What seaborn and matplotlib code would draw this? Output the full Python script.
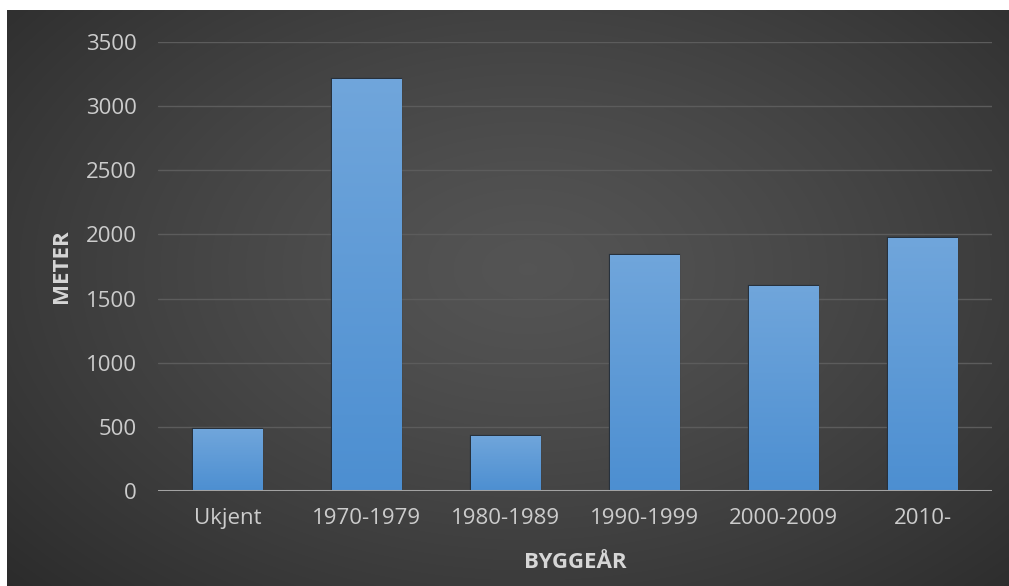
import numpy as np
import pandas as pd
import matplotlib
matplotlib.use("Agg")
import matplotlib.pyplot as plt
import seaborn as sns

# Metres per construction period
categories = ["Ukjent", "1970-1979", "1980-1989", "1990-1999", "2000-2009", "2010-"]
meters = [480, 3210, 430, 1840, 1600, 1970]
y_ticks = [0, 500, 1000, 1500, 2000, 2500, 3000, 3500]

df = pd.DataFrame({"byggeaar": categories, "meter": meters})

sns.set_theme(style="dark")
plt.rcParams["font.family"] = ["Open Sans", "DejaVu Sans"]

W, H = 1009, 586
fig = plt.figure(figsize=(W / 100, H / 100), dpi=100, facecolor="white")

# Dark panel with a soft radial gradient
bg = fig.add_axes([7 / W, 0, 1 - 7 / W, 1 - 10 / H], zorder=-10)
yy, xx = np.mgrid[0:1:300j, 0:1:500j]
r = np.sqrt(((xx - 0.52) / 0.75) ** 2 + ((yy - 0.45) / 0.85) ** 2)
shade = np.clip(0.33 - 0.17 * r ** 1.3, 0.16, 0.33)
bg.imshow(np.dstack([shade, shade, shade]), aspect="auto", extent=[0, 1, 0, 1],
          interpolation="bilinear")
bg.set_axis_off()

ax = fig.add_axes([158 / W, (H - 491) / H, 834 / W, 449 / H])
ax.set_facecolor("none")

sns.barplot(data=df, x="byggeaar", y="meter", width=0.5, color="#5b9bd5",
            edgecolor="#27313c", linewidth=1.6, saturation=1, ax=ax)

# Vertical gradient fill inside each bar
grad = np.linspace(0, 1, 256).reshape(-1, 1)
top = np.array([0.44, 0.65, 0.86])
bot = np.array([0.30, 0.56, 0.82])
cols = top[None, :] * (1 - grad) + bot[None, :] * grad
img = cols.reshape(256, 1, 3)
for p in ax.patches:
    x0, y0 = p.get_x(), p.get_y()
    w, h = p.get_width(), p.get_height()
    im = ax.imshow(img, extent=[x0, x0 + w, y0, y0 + h], aspect="auto",
                   zorder=p.get_zorder() + 0.1, interpolation="bilinear")
    im.set_clip_path(p)

ax.set_xlim(-0.5, len(categories) - 0.5)
ax.set_ylim(0, 3500)
ax.set_yticks(y_ticks)
ax.set_yticklabels([str(t) for t in y_ticks])
ax.yaxis.grid(True, color="#5c5c5c", linewidth=1.0)
ax.xaxis.grid(False)
ax.set_axisbelow(True)
for s in ax.spines.values():
    s.set_visible(False)
ax.axhline(0, color="#a3a3a3", linewidth=2.2, zorder=5)

ax.tick_params(axis="both", length=0, colors="#cccccc", labelsize=16)
ax.tick_params(axis="y", pad=15.5)
ax.tick_params(axis="x", pad=12.5)

ax.set_xlabel("BYGGEÅR", color="#d6d6d6", fontsize=16, fontweight="bold", labelpad=16)
ax.set_ylabel("METER", color="#d6d6d6", fontsize=16, fontweight="bold", labelpad=10)

fig.savefig("out.png", dpi=100, facecolor="white")
